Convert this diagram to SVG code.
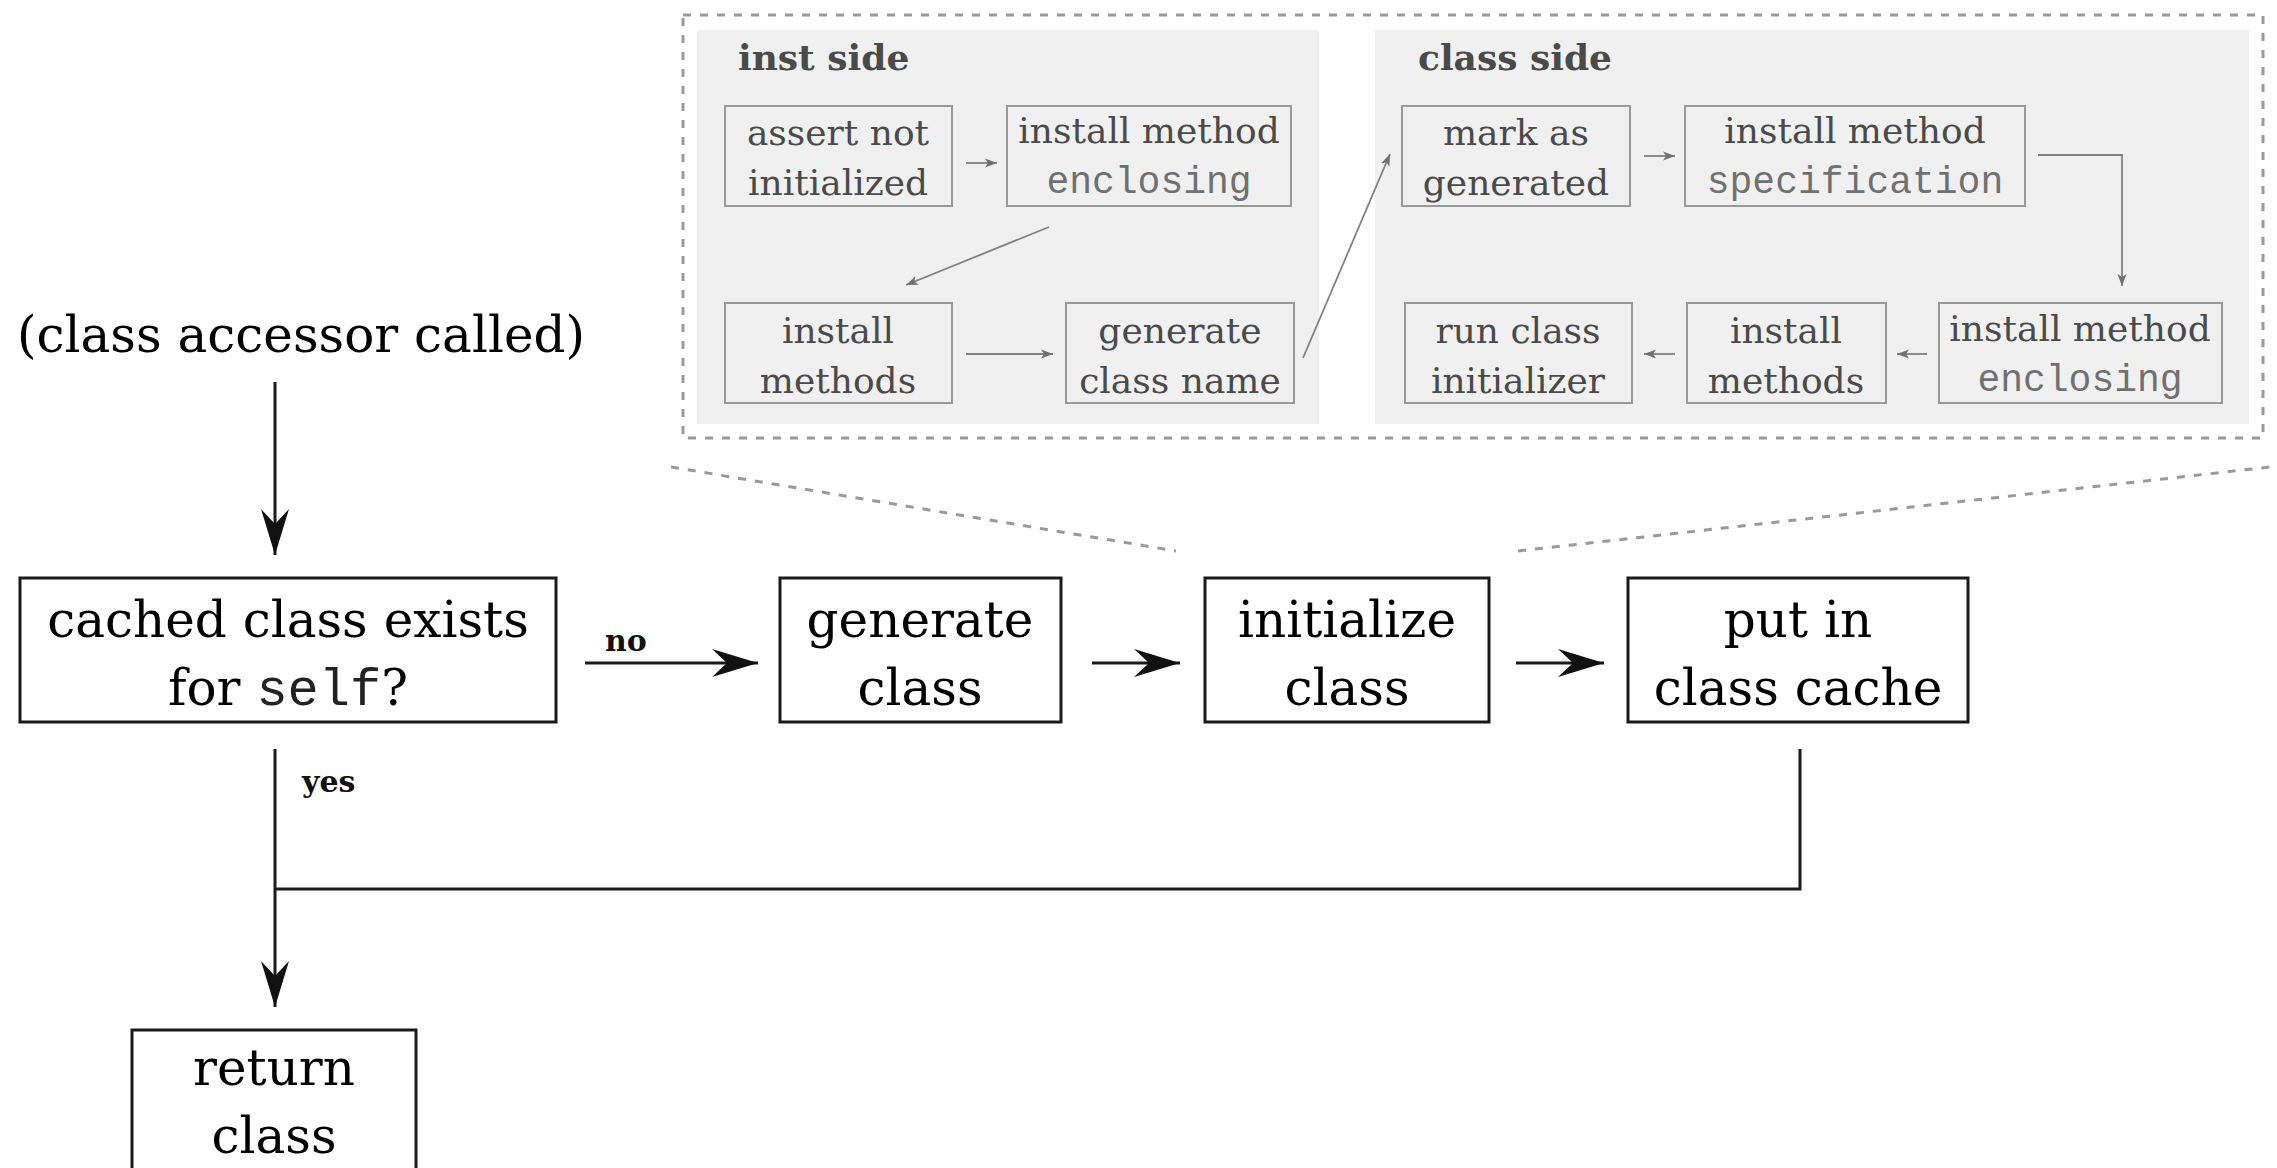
<svg xmlns="http://www.w3.org/2000/svg" width="2277" height="1168" viewBox="0 0 2277 1168">
<style>
.box{fill:#fff;stroke:#1a1a1a;stroke-width:3}
.t{font-family:"DejaVu Serif","Liberation Serif",serif;font-size:50px;fill:#000;text-anchor:middle}
.m{font-family:"Liberation Mono","DejaVu Sans Mono",monospace;font-size:52px;fill:#222}
.lbl{font-family:"DejaVu Serif","Liberation Serif",serif;font-size:30px;font-weight:bold;fill:#111}
.panel{fill:#f0f0f0;stroke:none}
.ibox{fill:none;stroke:#999;stroke-width:2}
.it{font-family:"DejaVu Serif","Liberation Serif",serif;font-size:36px;fill:#4a4a4a;text-anchor:middle}
.im{font-family:"Liberation Mono","DejaVu Sans Mono",monospace;font-size:38px;fill:#707070;text-anchor:middle}
.ttl{font-family:"DejaVu Serif","Liberation Serif",serif;font-size:36px;font-weight:bold;fill:#4a4a4a}
.ln{fill:none;stroke:#1a1a1a;stroke-width:3}
.arr{marker-end:url(#big)}
.iln{fill:none;stroke:#808080;stroke-width:1.8;marker-end:url(#small)}
.dash{fill:none;stroke:#999;stroke-width:3;stroke-dasharray:8 9}
</style>
<defs>
<marker id="big" viewBox="-48 -15 50 30" refX="0" refY="0" markerWidth="50" markerHeight="30" markerUnits="userSpaceOnUse" orient="auto">
<path d="M0,0 L-46,-14 L-31,0 L-46,14 Z" fill="#111"/>
</marker>
<marker id="small" viewBox="-13 -5 14 10" refX="0" refY="0" markerWidth="14" markerHeight="10" markerUnits="userSpaceOnUse" orient="auto">
<path d="M0,0 L-12,-4.5 L-9,0 L-12,4.5 Z" fill="#707070"/>
</marker>
</defs>

<g id="zoom-frame">
<rect x="683" y="15" width="1580" height="423" class="dash"/>
<rect x="697" y="30" width="622" height="394" class="panel"/>
<rect x="1375" y="30" width="874" height="394" class="panel"/>
<text x="738" y="70" class="ttl">inst side</text>
<text x="1418" y="70" class="ttl">class side</text>
</g>

<g id="connectors">
<line x1="275" y1="382" x2="275" y2="555" class="ln arr"/>
<line x1="585" y1="663" x2="758" y2="663" class="ln arr"/>
<line x1="1092" y1="663" x2="1180" y2="663" class="ln arr"/>
<line x1="1516" y1="663" x2="1604" y2="663" class="ln arr"/>
<polyline points="1800,749 1800,889 275,889" class="ln"/>
<line x1="275" y1="749" x2="275" y2="1007" class="ln arr"/>
<line x1="671" y1="467" x2="1176" y2="551" class="dash"/>
<line x1="1518" y1="551" x2="2270" y2="467" class="dash"/>
<line x1="966" y1="163" x2="997" y2="163" class="iln"/>
<line x1="1049" y1="227" x2="906" y2="285" class="iln"/>
<line x1="966" y1="354" x2="1053" y2="354" class="iln"/>
<line x1="1303" y1="358" x2="1390" y2="154" class="iln"/>
<line x1="1644" y1="156" x2="1675" y2="156" class="iln"/>
<polyline points="2038,155 2122,155 2122,286" class="iln"/>
<line x1="1927" y1="354" x2="1897" y2="354" class="iln"/>
<line x1="1675" y1="354" x2="1644" y2="354" class="iln"/>
<text x="605" y="651" class="lbl">no</text>
<text x="302" y="792" class="lbl">yes</text>
</g>

<g id="start">
<text x="301" y="352" class="t">(class accessor called)</text>
</g>
<g id="cached">
<rect x="20" y="578" width="536" height="144" class="box"/>
<text x="288" y="637" class="t">cached class exists</text>
<text x="288" y="705" class="t">for <tspan class="m">self</tspan>?</text>
</g>
<g id="generate">
<rect x="780" y="578" width="281" height="144" class="box"/>
<text x="920" y="637" class="t">generate</text>
<text x="920" y="705" class="t">class</text>
</g>
<g id="initialize">
<rect x="1205" y="578" width="284" height="144" class="box"/>
<text x="1347" y="637" class="t">initialize</text>
<text x="1347" y="705" class="t">class</text>
</g>
<g id="putin">
<rect x="1628" y="578" width="340" height="144" class="box"/>
<text x="1798" y="637" class="t">put in</text>
<text x="1798" y="705" class="t">class cache</text>
</g>
<g id="return">
<rect x="132" y="1030" width="284" height="160" class="box"/>
<text x="274" y="1085" class="t">return</text>
<text x="274" y="1153" class="t">class</text>
</g>

<g id="i-assert">
<rect x="725" y="106" width="227" height="100" class="ibox"/>
<text x="838" y="145" class="it">assert not</text>
<text x="838" y="195" class="it">initialized</text>
</g>
<g id="i-enclosing">
<rect x="1007" y="106" width="284" height="100" class="ibox"/>
<text x="1149" y="143" class="it">install method</text>
<text x="1149" y="193" class="im">enclosing</text>
</g>
<g id="i-methods">
<rect x="725" y="303" width="227" height="100" class="ibox"/>
<text x="838" y="343" class="it">install</text>
<text x="838" y="393" class="it">methods</text>
</g>
<g id="i-genname">
<rect x="1066" y="303" width="228" height="100" class="ibox"/>
<text x="1180" y="343" class="it">generate</text>
<text x="1180" y="393" class="it">class name</text>
</g>
<g id="c-mark">
<rect x="1402" y="106" width="228" height="100" class="ibox"/>
<text x="1516" y="145" class="it">mark as</text>
<text x="1516" y="195" class="it">generated</text>
</g>
<g id="c-spec">
<rect x="1685" y="106" width="340" height="100" class="ibox"/>
<text x="1855" y="143" class="it">install method</text>
<text x="1855" y="193" class="im">specification</text>
</g>
<g id="c-enclosing">
<rect x="1939" y="303" width="283" height="100" class="ibox"/>
<text x="2080" y="341" class="it">install method</text>
<text x="2080" y="391" class="im">enclosing</text>
</g>
<g id="c-methods">
<rect x="1687" y="303" width="199" height="100" class="ibox"/>
<text x="1786" y="343" class="it">install</text>
<text x="1786" y="393" class="it">methods</text>
</g>
<g id="c-runinit">
<rect x="1405" y="303" width="227" height="100" class="ibox"/>
<text x="1518" y="343" class="it">run class</text>
<text x="1518" y="393" class="it">initializer</text>
</g>
</svg>
